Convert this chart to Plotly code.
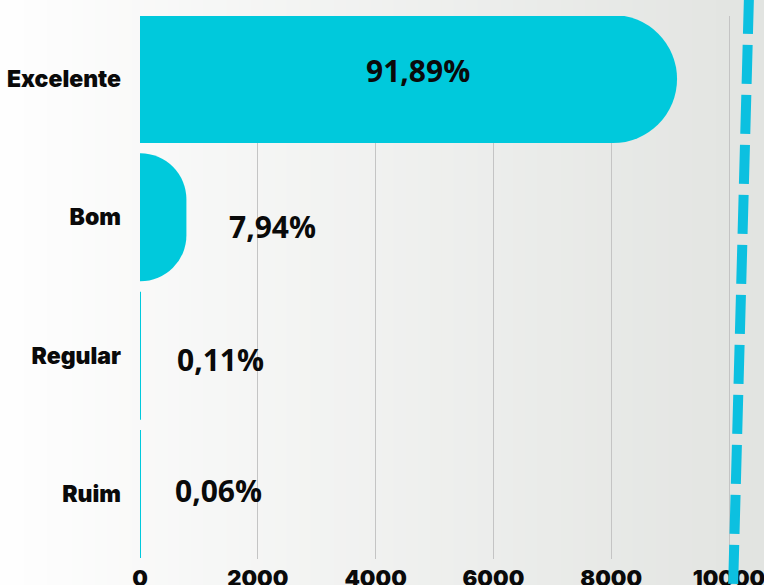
import plotly.graph_objects as go

categories = ["Excelente", "Bom", "Regular", "Ruim"]
counts = [9118, 788, 11, 6]
pct_labels = ["91,89%", "7,94%", "0,11%", "0,06%"]
tick_vals = [0, 2000, 4000, 6000, 8000, 10000]
tick_text = ["0", "2000", "4000", "6000", "8000", "10000"]

W, H = 764, 585
ML, MR, MT, MB = 140, 0, 16, 26
BAR = "#00C9DC"

fig = go.Figure()
fig.add_trace(go.Bar(
    y=categories, x=counts, orientation="h",
    marker=dict(color=BAR, line=dict(width=0)),
    hoverinfo="skip",
))

# percentage labels
ann = []
lab_anchor = ["center", "left", "left", "left"]
lab_xshift = [9, 41, 34, 33]
lab_yshift = [9, -9, -4, 3]
for i, (c, v, t) in enumerate(zip(categories, counts, pct_labels)):
    xpos = v / 2 if lab_anchor[i] == "center" else v
    ann.append(dict(
        x=xpos, y=c, xref="x", yref="y", text=t, showarrow=False,
        xanchor=lab_anchor[i], yanchor="middle",
        xshift=lab_xshift[i], yshift=lab_yshift[i],
        font=dict(family="Open Sans", size=30, color="#0a0a0a", weight=700),
    ))

# background gradient strips
shapes = []
N = 64
c0 = (254, 254, 254)
c1 = (226, 228, 225)
pw = W - ML - MR
ph = H - MT - MB
x_left = -ML / pw
x_right = (W - ML) / pw
y_bot = -MB / ph
y_top = (H - MB) / ph
for k in range(N):
    f = k / (N - 1)
    col = tuple(round(c0[j] + (c1[j] - c0[j]) * f) for j in range(3))
    xa = x_left + (x_right - x_left) * k / N
    xb = x_left + (x_right - x_left) * (k + 1) / N + 0.002
    shapes.append(dict(type="rect", xref="paper", yref="paper",
                       x0=xa, x1=xb, y0=y_bot, y1=y_top,
                       fillcolor="rgb(%d,%d,%d)" % col, line=dict(width=0),
                       layer="below"))

# decorative dashed line
def px2paper_x(px):
    return (px - ML) / pw

def py2paper_y(py):
    return (H - MB - py) / ph

shapes.append(dict(type="line", xref="paper", yref="paper",
                   x0=px2paper_x(749), y0=py2paper_y(-5),
                   x1=px2paper_x(733), y1=py2paper_y(590),
                   line=dict(color="#0CC0E0", width=10, dash="39px,11px"),
                   layer="above"))

fig.update_layout(
    width=W, height=H,
    margin=dict(l=ML, r=MR, t=MT, b=MB),
    paper_bgcolor="white",
    plot_bgcolor="rgba(0,0,0,0)",
    barcornerradius=64,
    bargap=0.0745,
    showlegend=False,
    shapes=shapes,
    annotations=ann,
    xaxis=dict(
        range=[0, pw / 0.0589],
        tickvals=tick_vals, ticktext=tick_text,
        showgrid=True, gridcolor="#c4c4c4", gridwidth=1,
        zeroline=False, showline=False, ticks="",
        tickfont=dict(family="Inter", size=22, color="#0a0a0a", weight=900),
        ticklabelstandoff=4,
        ticklabeloverflow="allow",
        automargin=False,
    ),
    yaxis=dict(
        categoryorder="array", categoryarray=categories,
        range=[3.47, -0.4555],
        showgrid=False, zeroline=False, showline=False, ticks="",
        tickfont=dict(family="Inter", size=23, color="#0a0a0a", weight=900),
        ticklabelstandoff=18,
        automargin=False,
    ),
)

fig.write_html("out.html", config={"displayModeBar": False},
               post_script="document.body.style.margin='0';document.body.style.overflow='hidden';")
